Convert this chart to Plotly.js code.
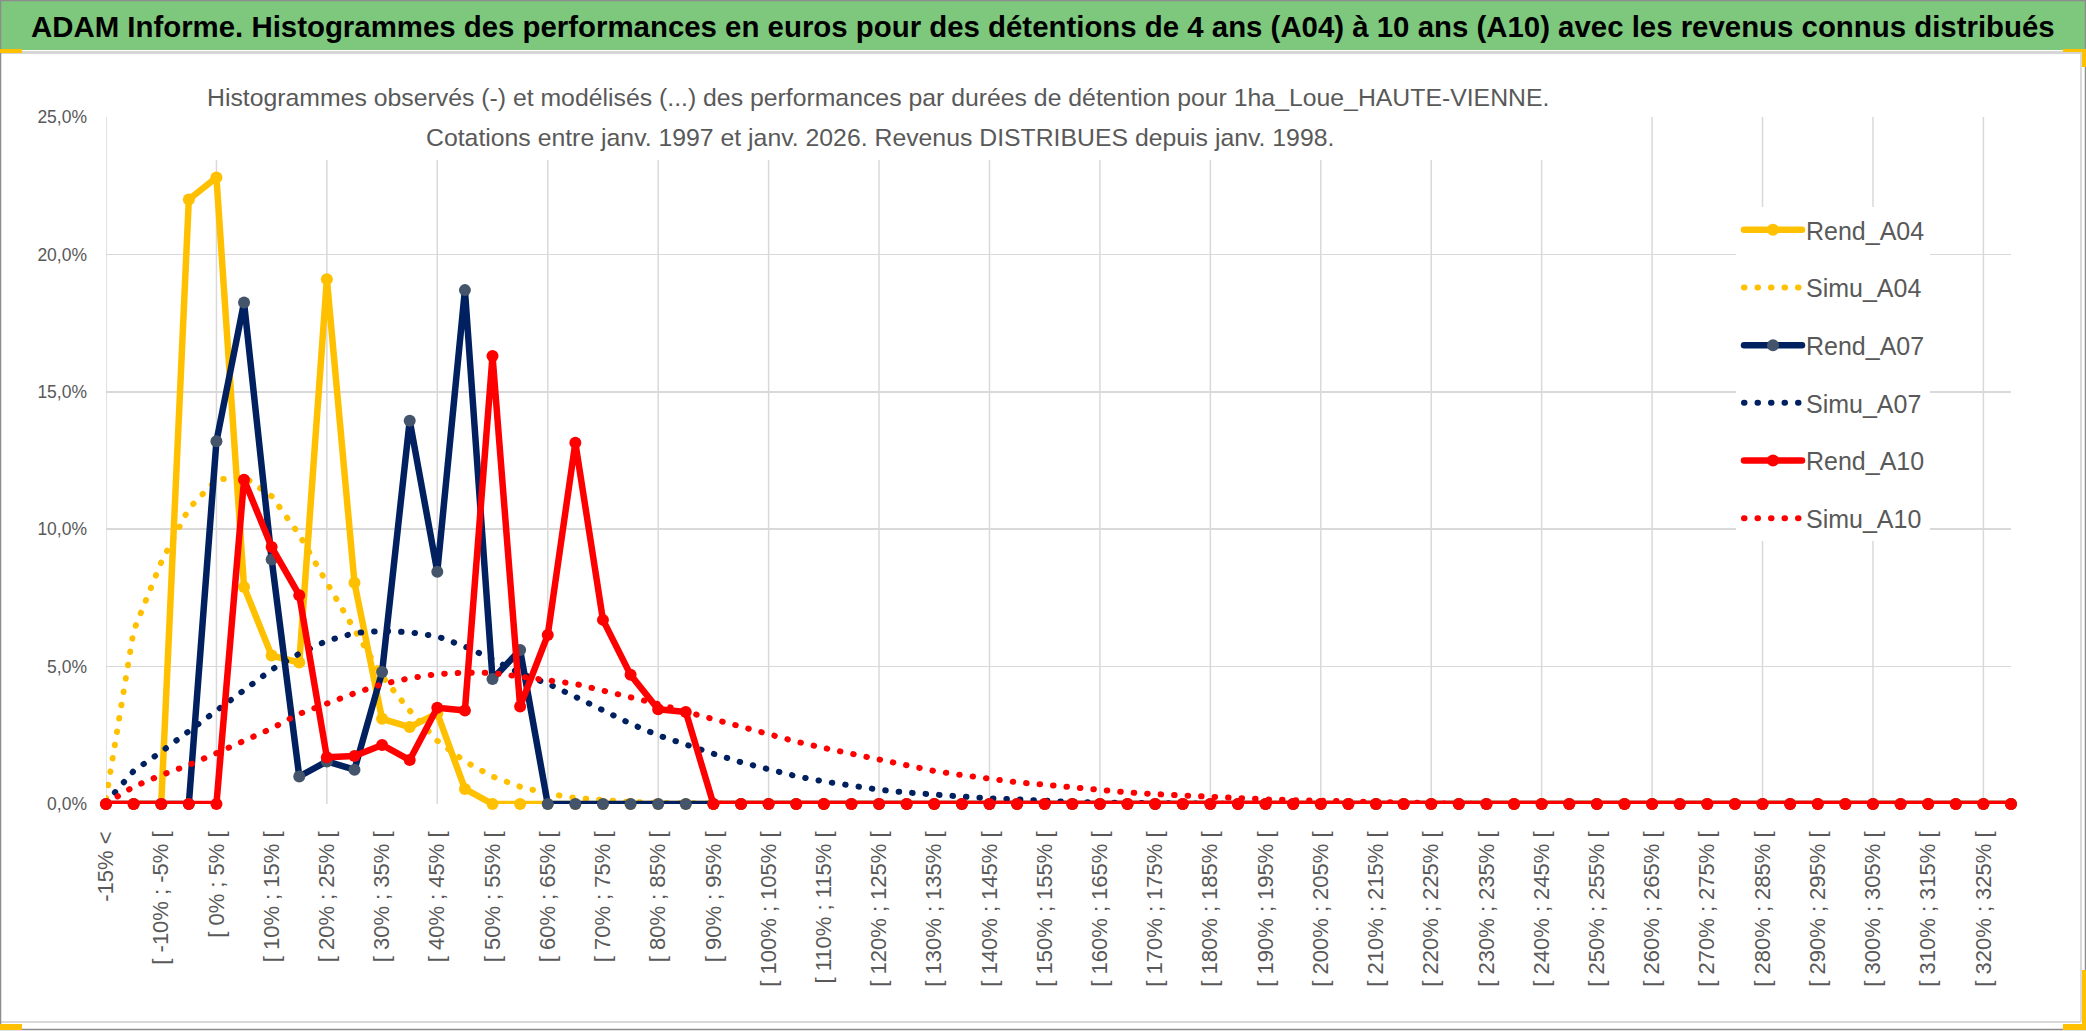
<!DOCTYPE html>
<html>
<head>
<meta charset="utf-8">
<script src="https://cdn.plot.ly/plotly-3.0.1.min.js"></script>
<style>
html,body{margin:0;padding:0;background:#fff;}
#chart{width:2086px;height:1031px;}
.js-line{stroke-linecap:round;stroke-linejoin:round;}
</style>
</head>
<body>
<div id="chart"></div>
<script>
// ---- categories (performance bins) ----
const categories = [
"-15% <","[ -15% ; -10% [","[ -10% ; -5% [","[ -5% ; 0% [","[ 0% ; 5% [","[ 5% ; 10% [",
"[ 10% ; 15% [","[ 15% ; 20% [","[ 20% ; 25% [","[ 25% ; 30% [","[ 30% ; 35% [","[ 35% ; 40% [",
"[ 40% ; 45% [","[ 45% ; 50% [","[ 50% ; 55% [","[ 55% ; 60% [","[ 60% ; 65% [","[ 65% ; 70% [",
"[ 70% ; 75% [","[ 75% ; 80% [","[ 80% ; 85% [","[ 85% ; 90% [","[ 90% ; 95% [","[ 95% ; 100% [",
"[ 100% ; 105% [","[ 105% ; 110% [","[ 110% ; 115% [","[ 115% ; 120% [","[ 120% ; 125% [","[ 125% ; 130% [",
"[ 130% ; 135% [","[ 135% ; 140% [","[ 140% ; 145% [","[ 145% ; 150% [","[ 150% ; 155% [","[ 155% ; 160% [",
"[ 160% ; 165% [","[ 165% ; 170% [","[ 170% ; 175% [","[ 175% ; 180% [","[ 180% ; 185% [","[ 185% ; 190% [",
"[ 190% ; 195% [","[ 195% ; 200% [","[ 200% ; 205% [","[ 205% ; 210% [","[ 210% ; 215% [","[ 215% ; 220% [",
"[ 220% ; 225% [","[ 225% ; 230% [","[ 230% ; 235% [","[ 235% ; 240% [","[ 240% ; 245% [","[ 245% ; 250% [",
"[ 250% ; 255% [","[ 255% ; 260% [","[ 260% ; 265% [","[ 265% ; 270% [","[ 270% ; 275% [","[ 275% ; 280% [",
"[ 280% ; 285% [","[ 285% ; 290% [","[ 290% ; 295% [","[ 295% ; 300% [","[ 300% ; 305% [","[ 305% ; 310% [",
"[ 310% ; 315% [","[ 315% ; 320% [","[ 320% ; 325% [","[ 325% ; 330% ["
];

// ---- series values (% of observations) ----
const rendA04 = [0,0,0,22.0,22.8,7.9,5.4,5.15,19.1,8.05,3.1,2.8,3.3,0.55,0,0,0,0,0,0,
  0,0,0,0,0,0,0,0,0,0,0,0,0,0,0,0,0,0,0,0,0,0,0,0,0,0,0,0,0,0,0,0,0,0,0,0,0,0,0,0,0,0,0,0,0,0,0,0,0,0];
const simuA04 = [0.2,6.3,8.8,10.75,11.8,11.9,11.2,9.8,8.05,6.3,4.65,3.4,2.3,1.55,1.0,0.63,0.38,0.22,0.12,0.07,
  0.04,0.02,0.01,0,0,0,0,0,0,0,0,0,0,0,0,0,0,0,0,0,0,0,0,0,0,0,0,0,0,0,0,0,0,0,0,0,0,0,0,0,0,0,0,0,0,0,0,0,0,0];
const rendA07 = [0,0,0,0,13.2,18.25,8.9,1.0,1.55,1.25,4.8,13.95,8.45,18.7,4.55,5.6,0,0,0,0,
  0,0,0,0,0,0,0,0,0,0,0,0,0,0,0,0,0,0,0,0,0,0,0,0,0,0,0,0,0,0,0,0,0,0,0,0,0,0,0,0,0,0,0,0,0,0,0,0,0,0];
const simuA07 = [0.05,1.2,1.9,2.64,3.4,4.17,4.89,5.47,5.94,6.22,6.3,6.25,6.1,5.73,5.27,4.75,4.38,3.9,3.39,2.92,
  2.5,2.14,1.83,1.52,1.24,1.01,0.82,0.65,0.52,0.42,0.33,0.27,0.21,0.15,0.11,0.075,0.05,0.03,0.02,0.01,
  0,0,0,0,0,0,0,0,0,0,0,0,0,0,0,0,0,0,0,0,0,0,0,0,0,0,0,0,0,0];
const rendA10 = [0,0,0,0,0,11.8,9.35,7.6,1.7,1.75,2.15,1.6,3.5,3.4,16.3,3.55,6.15,13.15,6.7,4.7,
  3.45,3.35,0,0,0,0,0,0,0,0,0,0,0,0,0,0,0,0,0,0,0,0,0,0,0,0,0,0,0,0,0,0,0,0,0,0,0,0,0,0,0,0,0,0,0,0,0,0,0,0];
const simuA10 = [0.02,0.63,1.05,1.42,1.85,2.3,2.75,3.28,3.66,4.03,4.36,4.58,4.73,4.78,4.77,4.66,4.5,4.37,4.14,3.89,
  3.64,3.36,3.08,2.81,2.53,2.27,2.04,1.82,1.59,1.39,1.2,1.05,0.91,0.79,0.7,0.59,0.5,0.42,0.36,0.3,
  0.26,0.22,0.17,0.14,0.11,0.08,0.05,0.03,0.02,0.01,0,0,0,0,0,0,0,0,0,0,0,0,0,0,0,0,0,0,0,0];

// ---- text ----
const headerText = "ADAM Informe. Histogrammes des performances en euros pour des détentions de 4 ans (A04) à 10 ans (A10) avec les revenus connus distribués";
const subLine1 = "Histogrammes observés (-) et modélisés (...) des performances par durées de détention pour 1ha_Loue_HAUTE-VIENNE.";
const subLine2 = "Cotations entre janv. 1997 et janv. 2026. Revenus DISTRIBUES depuis janv. 1998.";
const tickLabels = categories.filter((c, i) => i % 2 === 0);
const gridCats = categories.filter((c, i) => i % 4 === 0);

// ---- geometry helpers (layout only) ----
const W = 2086, H = 1031, L = 106, R = 2011, T = 117, B = 804;
const px = x => (x - L) / (R - L);
const py = y => (B - y) / (B - T);

const SANS = "'Liberation Sans', Arial, sans-serif";
const GRAY = "#595959";
const GRID = "#D9D9D9";
const DOT = "0.5px,13px";

function rend(name, y, color, mcolor) {
  return {type: 'scatter', mode: 'lines+markers', name: name, x: categories, y: y,
    line: {color: color, width: 6.5}, marker: {color: mcolor, size: 12},
    cliponaxis: false, legendgroup: name, hoverinfo: 'x+y'};
}
function simu(name, y, color) {
  return {type: 'scatter', mode: 'lines', name: name, x: categories, y: y,
    line: {color: color, width: 6, dash: DOT},
    cliponaxis: false, legendgroup: name, hoverinfo: 'x+y'};
}

const traces = [
  rend('Rend_A04', rendA04, '#FFC000', '#FFC000'),
  simu('Simu_A04', simuA04, '#FFC000'),
  rend('Rend_A07', rendA07, '#002060', '#44546A'),
  simu('Simu_A07', simuA07, '#002060'),
  rend('Rend_A10', rendA10, '#FF0000', '#FF0000'),
  simu('Simu_A10', simuA10, '#FF0000')
];

const rect = (x0, y0, x1, y1, fill, line) => ({type: 'rect', xref: 'paper', yref: 'paper', layer: 'above',
  x0: px(x0), x1: px(x1), y0: py(y1), y1: py(y0), fillcolor: fill || 'rgba(0,0,0,0)',
  line: line || {width: 0}});

// vertical gridlines every 4 categories, placed through the category axis
const vgrid = gridCats.map(c => ({type: 'line', xref: 'x', yref: 'paper', layer: 'below',
  x0: c, x1: c, y0: 0, y1: 1, line: {color: GRID, width: 1.5}}));

const shapes = vgrid.concat([
  rect(0, 0, W, 50, '#7DC87D'),
  {type: 'line', xref: 'paper', yref: 'paper', layer: 'above', x0: px(0), x1: px(W), y0: py(52.5), y1: py(52.5), line: {color: '#D6D6D6', width: 3}},
  rect(200, 62, 1562, 160, '#FFFFFF'),
  {type: 'line', xref: 'paper', yref: 'paper', layer: 'above', x0: px(2081), x1: px(2081), y0: py(53), y1: py(1022), line: {color: GRID, width: 2}},
  {type: 'line', xref: 'paper', yref: 'paper', layer: 'above', x0: px(0), x1: px(2081), y0: py(1022), y1: py(1022), line: {color: GRID, width: 2}},
  rect(0.5, 0.5, W - 0.5, H - 1.5, null, {color: '#8C8C8C', width: 1.5}),
  rect(0, 49, 22, 53, '#FFC000'),
  rect(0, 1024, 22, 1030, '#FFC000'),
  rect(2063, 49, 2084, 52, '#FFC000'),
  rect(2082, 49, 2086, 67, '#FFC000'),
  rect(2063, 1024, 2082, 1030, '#FFC000'),
  rect(2082, 970, 2086, 1030, '#FFC000')
]);

const annotations = [
  {xref: 'paper', yref: 'paper', x: px(29), y: py(26), xanchor: 'left', yanchor: 'middle', showarrow: false,
   text: headerText, font: {family: SANS, size: 29.4, color: '#000000', weight: 700}},
  {xref: 'paper', yref: 'paper', x: px(878), y: py(97), xanchor: 'center', yanchor: 'middle', showarrow: false,
   text: subLine1, font: {family: SANS, size: 24.8, color: GRAY}},
  {xref: 'paper', yref: 'paper', x: px(880), y: py(137), xanchor: 'center', yanchor: 'middle', showarrow: false,
   text: subLine2, font: {family: SANS, size: 24.8, color: GRAY}}
];

const layout = {
  width: W, height: H,
  margin: {l: L, r: W - R, t: T, b: H - B, pad: 0},
  paper_bgcolor: '#FFFFFF', plot_bgcolor: '#FFFFFF',
  separators: ', ',
  showlegend: true,
  legend: {x: px(1736), xanchor: 'left', y: py(207), yanchor: 'top', bgcolor: '#FFFFFF',
    font: {family: SANS, size: 25, color: GRAY}, itemwidth: 60, tracegroupgap: 22.2, traceorder: 'grouped'},
  xaxis: {type: 'category', range: [0, categories.length - 1], autorange: false,
    tickmode: 'array', tickvals: tickLabels, ticktext: tickLabels, tickangle: -90,
    tickfont: {family: SANS, size: 22, color: GRAY}, ticks: '', ticklabelstandoff: 22,
    showgrid: false, zeroline: false, showline: false, fixedrange: true},
  yaxis: {range: [0, 25], autorange: false, tick0: 0, dtick: 5, tickformat: '.1f', ticksuffix: '%',
    tickfont: {family: SANS, size: 17.5, color: GRAY}, ticks: '', ticklabelstandoff: 18,
    showgrid: true, gridcolor: GRID, gridwidth: 1.5, zeroline: false, showline: false, fixedrange: true},
  shapes: shapes,
  annotations: annotations
};

Plotly.newPlot('chart', traces, layout, {displayModeBar: false, staticPlot: true}).then(gd => {
  // lengthen legend symbols to match the reference legend keys
  gd.querySelectorAll('.legend .traces').forEach(tr => {
    tr.querySelectorAll('.legendlines path').forEach(p => p.setAttribute('d', 'M8,0h58'));
    tr.querySelectorAll('.legendpoints path').forEach(p => p.setAttribute('transform', 'translate(37,0)'));
  });
});
</script>
</body>
</html>
